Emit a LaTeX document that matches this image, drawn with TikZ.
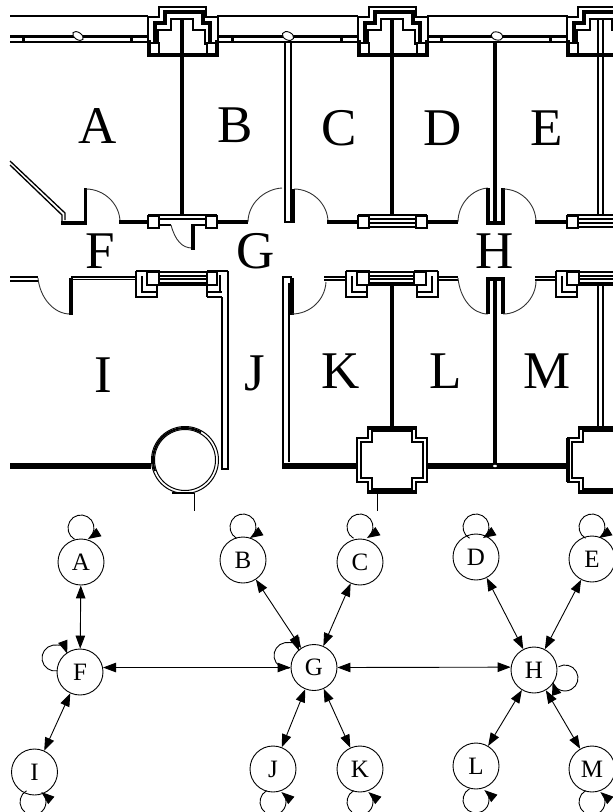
\documentclass[tikz,border=0pt]{standalone}
\usepackage{fontspec}
\setmainfont{Liberation Serif}
\usetikzlibrary{arrows.meta,calc}
\tikzset{
  x=1pt,y=-1pt,
  wall/.style={line width=3.3pt,line cap=butt,line join=miter},
  heavy/.style={line width=6pt},
  fine/.style={line width=1.3pt,line join=miter},
  swing/.style={line width=0.9pt,black!80},
  frame/.style={line width=1.5pt,draw=black,fill=white},
  room/.style={font=\fontsize{53}{53}\selectfont,inner sep=0pt},
  state/.style={circle,draw,line width=0.9pt,minimum size=46pt,inner sep=0pt,font=\fontsize{25}{25}\selectfont},
  edge/.style={line width=0.9pt,{Triangle[length=13pt,width=9.5pt]}-{Triangle[length=13pt,width=9.5pt]}},
  loopedge/.style={line width=0.9pt,-{Triangle[length=13pt,width=9.5pt]}}
}
\newcommand{\TopMod}[1]{\begin{scope}[xshift=#1pt]
  \draw[fine] (-34,55)--(-34,17)--(-23,17)--(-23,7)--(24,7)--(24,17)--(36,17)--(36,55);
  \draw[wall] (-27,45)--(-27,23)--(-17,23)--(-17,12)--(21,12)--(21,23)--(28,23)--(28,45);
  \draw[fine] (-24,45)--(-24,30)--(-11,30)--(-11,19)--(11,19)--(11,30)--(23,30)--(23,45);
  \draw[frame] (-34,43) rectangle (-23,55);
  \draw[frame] (25,43) rectangle (35,55);
  \draw[wall] (-35,55)--(37,55);
  \draw[wall] (-33,40)--(-33,55);
  \draw[wall] (35,40)--(35,55);
\end{scope}}
\newcommand{\BotMod}[1]{\begin{scope}[xshift=#1pt]
  \draw[fine] (-23,219)--(24,219);
  \draw[fine] (-23,223)--(24,223);
  \draw[fine] (-23,227)--(24,227);
  \draw[line width=1.8pt] (-34,215)--(35,215);
  \draw[frame] (-34,216) rectangle (-23,228);
  \draw[frame] (24,216) rectangle (35,228);
\end{scope}}
\newcommand{\FrameL}[1]{\begin{scope}[xshift=#1pt]
  \draw[fine] (0,271) -- (24,271);
  \draw[fine] (0,271)--(0,297)--(21,297)--(21,285);
  \draw[fine] (6,276)--(6,292)--(21,292);
  \draw[frame] (11,272) rectangle (23,285);
\end{scope}}
\newcommand{\FrameR}[1]{\begin{scope}[xshift=#1pt]
  \draw[fine] (0,271) -- (-24,271);
  \draw[fine] (0,271)--(0,297)--(-21,297)--(-21,285);
  \draw[fine] (-6,276)--(-6,292)--(-21,292);
  \draw[frame] (-12,272) rectangle (-24,285);
\end{scope}}
\newcommand{\Glass}[2]{\draw[fine] (#1,272)--(#2,272); \draw[fine] (#1,276)--(#2,276); \draw[fine] (#1,279)--(#2,279); \draw[line width=3.8pt] (#1,284)--(#2,284);}
\newcommand{\Pillar}[1]{\begin{scope}[xshift=#1pt]
  \draw[fill=white,line width=1.5pt,line join=miter] (-24,427)--(-24,438)--(-35,438)--(-35,482)--(-24,482)--(-24,493)--(24,493)--(24,482)--(35,482)--(35,438)--(24,438)--(24,427)--cycle;
  \draw[fine] (-20,431)--(-20,442)--(-31,442)--(-31,478)--(-20,478)--(-20,489)--(20,489)--(20,478)--(31,478)--(31,442)--(20,442)--(20,431)--cycle;
  \draw[wall] (-24,428)--(24,428);
  \draw[wall] (-24,492)--(24,492);
\end{scope}}
\newcommand{\Selfloop}[5]{\draw[loopedge] ($(#1)+(#2,#3)+(#4:13)$) arc[start angle=#4,end angle=#5,radius=13];}
\begin{document}
\begin{tikzpicture}
\useasboundingbox (0,0) rectangle (613,812);
\clip (0,0) rectangle (613,812);
% top outer wall
\foreach \a/\b in {10/148,217/358,427/568}{
  \draw[fine] (\a,16)--(\b,16);
  \draw[wall] (\a,36.5)--(\b,36.5);
  \draw[fine] (\a,42)--(\b,42);
}
\foreach \t in {23,131,232,341,441,550}{\draw[line width=3pt] (\t,36)--(\t,42);}
\draw[frame,line width=0.9pt,rotate around={-35:(78,36)}] (78,36) ellipse (6 and 3.5);
\draw[frame,line width=0.9pt,rotate around={-25:(288,36)}] (288,36) ellipse (6 and 4);
\draw[frame,line width=0.9pt,rotate around={-15:(497,36)}] (497,36) ellipse (6 and 4);
% partition walls
\draw[wall] (182,18)--(182,214);
\draw[wall] (392,18)--(392,214);
\draw[wall] (495,42)--(495,222);
\draw[fine] (285,42)--(285,222) (291,42)--(291,222);
\draw[fine] (598,19)--(598,215) (603,19)--(603,215);
% top modules
\TopMod{182}\TopMod{392}\TopMod{601}
\draw[wall] (182,18)--(182,56);
\draw[wall] (392,18)--(392,56);
\draw[fine] (598,19)--(598,56) (603,19)--(603,56);
\BotMod{392}\BotMod{601}
% module with door
\draw[fine] (160,219)--(205,219);
\draw[line width=1.8pt] (148,215)--(217,215);
\draw[fine] (159,225)--(171,225) (193,225)--(206,225);
\draw[frame] (148,216) rectangle (159,228);
\draw[frame] (206,216) rectangle (217,228);
\draw[swing] (171,225) .. controls (175,240) and (182,248) .. (192,248);
\draw[wall] (193,224)--(193,250);
% corridor north wall
\draw[fine] (10,161)--(65,213)--(65,220);
\draw[fine] (10,165)--(62,215)--(62,222);
\draw[wall] (61,223)--(85.5,223)--(85.5,188);
\draw[swing] (86,189) .. controls (104,189) and (120,204) .. (120,222);
\draw[wall] (119,222)--(148,222);
\draw[wall] (217,222)--(248,222);
\draw[swing] (248,222) .. controls (248,204) and (264,189) .. (282,188);
\draw[wall] (293,189)--(293,223);
\draw[fine] (284,222)--(295,222);
\draw[swing] (294,189) .. controls (312,189) and (328,204) .. (328,222);
\draw[wall] (327,222)--(357,222);
\draw[wall] (427,222)--(458,222);
\draw[swing] (458,222) .. controls (458,204) and (472,189) .. (488,188);
\draw[wall] (488,188)--(488,223)--(503,223)--(503,188);
\draw[swing] (503,189) .. controls (521,189) and (536,204) .. (536,222);
\draw[wall] (535,222)--(568,222);
% corridor south wall
\draw[fine] (10,277)--(38,277) (10,281)--(38,281);
\draw[swing] (38,278) .. controls (40,298) and (54,314) .. (70,314);
\draw[wall] (71,315)--(71,278);
\draw[fine] (71,277)--(137,277) (71,279.5)--(137,279.5);
\FrameL{136}\Glass{159}{206}
\draw[fine] (207,271)--(228,271);
\draw[fine] (207,297)--(222,297) (207,292)--(222,292) (207,285)--(207,297);
\draw[fine] (220,275)--(220,292);
\draw[frame] (207,272) rectangle (217,285);
\draw[fine] (222,297)--(222,469)--(228,469)--(228,271);
\draw[fine] (283,469)--(283,277)--(292,277);
\draw[fine] (289,283)--(289,462);
\draw[wall] (292,278)--(292,315);
\draw[swing] (292,314) .. controls (310,314) and (325,300) .. (326,282);
\draw[fine] (324,277)--(347,277) (324,280)--(347,280);
\FrameL{346}\Glass{369}{414}\FrameR{438}
\draw[fine] (437,277)--(458,277) (437,280)--(458,280);
\draw[swing] (458,278) .. controls (460,298) and (472,314) .. (488,314);
\draw[wall] (488,314)--(488,279)--(503,279)--(503,314);
\draw[wall] (495,279)--(495,466);
\draw[swing] (503,314) .. controls (521,314) and (536,298) .. (536,281);
\draw[fine] (535,277)--(557,277) (535,280)--(557,280);
\FrameL{556}\Glass{579}{613}
\draw[wall] (392,284)--(392,428);
\draw[fine] (598,286)--(598,428) (603,286)--(603,428);
% south walls
\draw[heavy] (10,466)--(151,466);
\draw[heavy] (284,466)--(358,466);
\draw[heavy] (426,466)--(569,466);
\draw[fill=white,draw=none] (495,466) ellipse (2 and 1.2);
% circular pillar
\draw[fill=white,line width=1pt] (185,460) circle (33.5);
\draw[line width=1pt] (185,460) circle (30.5);
\draw[line width=2pt] (185,460) ++(160:32) arc[start angle=160,end angle=300,radius=32];
\draw[fine] (172,493)--(194,493);
\draw[line width=1pt] (194,493)--(194,511);
% square pillars
\Pillar{392}\Pillar{603}
\draw[line width=1pt] (377,493)--(377,511);
\draw[wall] (568,438)--(568,482);
% room names
\node[room] at (98,126) {A};
\node[room] at (235,125) {B};
\node[room] at (339,128) {C};
\node[room] at (443,128) {D};
\node[room] at (547,128) {E};
\node[room] at (100,251) {F};
\node[room] at (256,251) {G};
\node[room] at (495,251) {H};
\node[room] at (103,375) {I};
\node[room] at (255,373) {J};
\node[room] at (341,371) {K};
\node[room] at (446,371) {L};
\node[room] at (547,371) {M};
% graph
\node[state] (A) at (81,562) {A};
\node[state] (B) at (243,560) {B};
\node[state] (C) at (360,562) {C};
\node[state] (D) at (476,557) {D};
\node[state] (E) at (592,559) {E};
\node[state] (F) at (80,672) {F};
\node[state] (G) at (314,667.5) {G};
\node[state] (H) at (534,670) {H};
\node[state] (I) at (34.5,772) {I};
\node[state] (J) at (273,769) {J};
\node[state] (K) at (360,769) {K};
\node[state] (L) at (476,766) {L};
\node[state] (M) at (592,769) {M};
\draw[edge] (A) -- (F);
\draw[edge] (F.11) -- (G.west);
\draw[edge] (G.east) -- (H.173);
\draw[edge] (F) -- (I);
\draw[edge] (B) -- (G);
\draw[edge] (C) -- (G);
\draw[edge] (G) -- (J);
\draw[edge] (G) -- (K);
\draw[edge] (D) -- (H);
\draw[edge] (E) -- (H);
\draw[edge] (H) -- (L);
\draw[edge] (H) -- (M);
\Selfloop{A}{0}{-34}{120}{418}
\Selfloop{B}{0}{-33}{120}{418}
\Selfloop{C}{0}{-35}{120}{418}
\Selfloop{D}{0}{-30}{120}{418}
\Selfloop{E}{0}{-32}{120}{418}
\Selfloop{F}{-25}{-14}{80}{340}
\Selfloop{G}{-27}{-12}{80}{340}
\Selfloop{H}{31}{8}{240}{522}
\Selfloop{I}{-1.5}{30}{240}{-50}
\Selfloop{J}{0}{33}{240}{-50}
\Selfloop{K}{0}{33}{240}{-50}
\Selfloop{L}{0}{34}{240}{-50}
\Selfloop{M}{0}{33}{240}{-50}
\end{tikzpicture}
\end{document}
